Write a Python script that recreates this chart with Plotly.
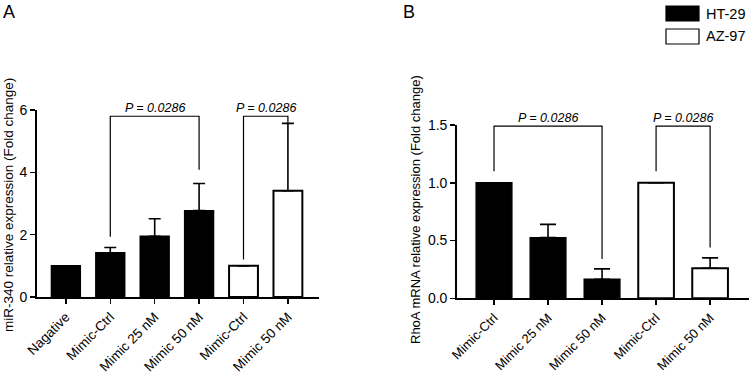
import plotly.graph_objects as go

W, H = 749, 374
FONT = "Liberation Sans, Arial, sans-serif"

# ---------------- Data ----------------
# Panel A: miR-340 relative expression
a_categories = ["Nagative", "Mimic-Ctrl", "Mimic 25 nM", "Mimic 50 nM", "Mimic-Ctrl", "Mimic 50 nM"]
a_ht29_values = [1.0, 1.42, 1.95, 2.77]
a_ht29_errors = [0.0, 0.17, 0.56, 0.87]
a_az97_values = [1.0, 3.41]
a_az97_errors = [0.0, 2.16]
a_yticks = [0, 2, 4, 6]
a_ytick_labels = ["0", "2", "4", "6"]
# brackets: (left index, right index, top y, left leg bottom y, right leg bottom y)
a_brackets = [(1, 3, 5.8, 1.93, 4.08), (4, 5, 5.8, 1.2, 5.57)]
a_pvalues = ["P = 0.0286", "P = 0.0286"]

# Panel B: RhoA mRNA relative expression
b_categories = ["Mimic-Ctrl", "Mimic 25 nM", "Mimic 50 nM", "Mimic-Ctrl", "Mimic 50 nM"]
b_ht29_values = [1.0, 0.525, 0.165]
b_ht29_errors = [0.0, 0.115, 0.09]
b_az97_values = [1.0, 0.26]
b_az97_errors = [0.0, 0.09]
b_yticks = [0.0, 0.5, 1.0, 1.5]
b_ytick_labels = ["0.0", "0.5", "1.0", "1.5"]
b_brackets = [(0, 2, 1.49, 1.1, 0.34), (3, 4, 1.49, 1.1, 0.44)]
b_pvalues = ["P = 0.0286", "P = 0.0286"]

series_names = ["HT-29", "AZ-97"]

# ---------------- Figure ----------------
fig = go.Figure()

def px_x(p):
    return p / W

def px_y(p):
    return (H - p) / H

def add_panel(v1, e1, v2, e2, xa, ya, capw, bw):
    n1 = len(v1)
    x1 = list(range(n1))
    x2 = list(range(n1, n1 + len(v2)))
    fig.add_trace(go.Bar(
        x=x1, y=v1, width=bw, name=series_names[0], showlegend=False,
        marker=dict(color="black", line=dict(color="black", width=1.5)),
        error_y=dict(type="data", array=e1, arrayminus=[0] * n1, symmetric=False,
                     color="black", thickness=1.6, width=capw),
        xaxis=xa, yaxis=ya, hoverinfo="skip"))
    fig.add_trace(go.Bar(
        x=x2, y=v2, width=bw, name=series_names[1], showlegend=False,
        marker=dict(color="white", line=dict(color="black", width=2)),
        error_y=dict(type="data", array=e2, arrayminus=[0] * len(v2), symmetric=False,
                     color="black", thickness=1.6, width=capw),
        xaxis=xa, yaxis=ya, hoverinfo="skip"))

add_panel(a_ht29_values, a_ht29_errors, a_az97_values, a_az97_errors, "x", "y", 6, 0.65)
add_panel(b_ht29_values, b_ht29_errors, b_az97_values, b_az97_errors, "x2", "y2", 8, 0.66)

shapes = []
annotations = []

def add_brackets(brs, pvals, xr, yr):
    for (i0, i1, top, l0, r0), pv in zip(brs, pvals):
        shapes.append(dict(
            type="path", xref=xr, yref=yr,
            path=f"M {i0},{l0} L {i0},{top} L {i1},{top} L {i1},{r0}",
            line=dict(color="black", width=1.2)))
        annotations.append(dict(
            x=(i0 + i1) / 2, y=top, xref=xr, yref=yr, text=f"<i>{pv}</i>",
            showarrow=False, xanchor="center", yanchor="bottom", yshift=-1,
            font=dict(family=FONT, size=12.5, color="black")))

add_brackets(a_brackets, a_pvalues, "x", "y")
add_brackets(b_brackets, b_pvalues, "x2", "y2")

# y-axis titles
annotations.append(dict(x=px_x(8), y=px_y(205), xref="paper", yref="paper",
                        xanchor="center", yanchor="middle",
                        text="miR-340 relative expression (Fold change)", textangle=-90,
                        showarrow=False, font=dict(family=FONT, size=13.5, color="black")))
annotations.append(dict(x=px_x(415), y=px_y(210), xref="paper", yref="paper",
                        xanchor="center", yanchor="middle",
                        text="RhoA mRNA relative expression (Fold change)", textangle=-90,
                        showarrow=False, font=dict(family=FONT, size=13, color="black")))
# panel labels
annotations.append(dict(x=px_x(1), y=px_y(0), xref="paper", yref="paper", text="A",
                        xanchor="left", yanchor="top", showarrow=False,
                        font=dict(family=FONT, size=18, color="black")))
annotations.append(dict(x=px_x(401), y=px_y(0), xref="paper", yref="paper", text="B",
                        xanchor="left", yanchor="top", showarrow=False,
                        font=dict(family=FONT, size=18, color="black")))

# legend (drawn manually)
legend_fill = ["black", "white"]
for k, (name, fill) in enumerate(zip(series_names, legend_fill)):
    top = 6 + k * 23
    shapes.append(dict(type="rect", xref="paper", yref="paper",
                       x0=px_x(666), x1=px_x(699), y0=px_y(top + 15), y1=px_y(top),
                       fillcolor=fill, line=dict(color="black", width=1.2)))
    annotations.append(dict(x=px_x(704), y=px_y(top + 7.5), xref="paper", yref="paper",
                            text=name, xanchor="left", yanchor="middle", showarrow=False,
                            font=dict(family=FONT, size=14.5, color="black")))

axis_common = dict(showline=True, linecolor="black", linewidth=1.8, ticks="outside",
                   ticklen=5, tickwidth=1.5, tickcolor="black", showgrid=False,
                   zeroline=False, automargin=False)
xfont_a = dict(family=FONT, size=13.5, color="black")
xfont_b = dict(family=FONT, size=13, color="black")
yfont = dict(family=FONT, size=14, color="black")

fig.update_layout(
    template="none",
    width=W, height=H,
    margin=dict(l=0, r=0, t=0, b=0, pad=0),
    paper_bgcolor="white", plot_bgcolor="white",
    barmode="overlay", showlegend=False,
    xaxis=dict(domain=[px_x(37), px_x(319)], range=[-0.65, 5.7], anchor="y",
               tickmode="array", tickvals=list(range(len(a_categories))),
               ticktext=a_categories, tickangle=-45, tickfont=xfont_a, **axis_common),
    yaxis=dict(domain=[px_y(297), px_y(110)], range=[0, 6], anchor="x",
               tickmode="array", tickvals=a_yticks, ticktext=a_ytick_labels,
               tickfont=yfont, **axis_common),
    xaxis2=dict(domain=[px_x(457), 1.0], range=[-0.685, 4.72], anchor="y2",
                tickmode="array", tickvals=list(range(len(b_categories))),
                ticktext=b_categories, tickangle=-45, tickfont=xfont_b, **axis_common),
    yaxis2=dict(domain=[px_y(298.3), px_y(125)], range=[0, 1.5], anchor="x2",
                tickmode="array", tickvals=b_yticks, ticktext=b_ytick_labels,
                tickfont=yfont, **axis_common),
    shapes=shapes, annotations=annotations,
)

fig.write_html(
    "out.html",
    config={"displayModeBar": False, "staticPlot": True},
    post_script="document.body.style.margin='0';document.body.style.overflow='hidden';",
)
